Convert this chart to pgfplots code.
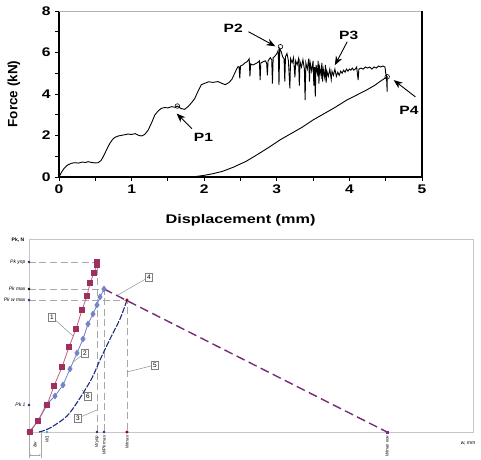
\documentclass[border=0pt]{standalone}
\usepackage{fontspec}
\setmainfont{Liberation Sans}
\usepackage{pgfplots}
\pgfplotsset{compat=1.18}
\usetikzlibrary{arrows.meta}

\definecolor{sqred}{HTML}{9E2F5E}
\definecolor{sqline}{HTML}{C06080}
\definecolor{diablue}{HTML}{7282C4}
\definecolor{navyc}{HTML}{1F2A7A}
\definecolor{purp}{HTML}{7A2A78}
\definecolor{guide}{HTML}{A8A8A8}

\begin{document}
\begin{tikzpicture}
\useasboundingbox (0,0) rectangle (481pt,459pt);

% ---- top: force vs displacement ----
\begin{axis}[
  at={(59pt,282pt)}, anchor=south west,
  scale only axis, width=363pt, height=166pt,
  xmin=0, xmax=5, ymin=0, ymax=8,
  xtick={0,...,5}, ytick={0,2,...,8},
  minor x tick num=1, minor y tick num=1,
  tick align=outside, xtick pos=bottom, ytick pos=left,
  major tick length=4pt, minor tick length=4pt,
  axis lines*=left, axis line style={line width=1.2pt,-},
  tick style={line width=0.9pt, black},
  /pgf/number format/assume math mode=true,
  ticklabel style={font=\bfseries\fontsize{12.5}{14}\selectfont, xscale=1.25},
  xlabel={Displacement (mm)}, ylabel={Force (kN)},
  xlabel style={at={(axis description cs:0.5,-0.26)}, anchor=center,
    font=\bfseries\fontsize{12.5}{14}\selectfont, xscale=1.3},
  ylabel style={at={(axis description cs:-0.124,0.5)}, anchor=center,
    font=\bfseries\fontsize{13.5}{15}\selectfont},
  clip=false
]
\addplot[black, line width=0.9pt] coordinates {
(0,0) (0.03,0.2) (0.07,0.42) (0.12,0.58) (0.17,0.66) (0.22,0.69) (0.27,0.67)
(0.32,0.72) (0.37,0.7) (0.40,0.74) (0.45,0.7) (0.50,0.68) (0.54,0.69) (0.58,0.8)
(0.62,1.05) (0.66,1.35) (0.70,1.62) (0.74,1.82) (0.77,1.91) (0.82,1.98) (0.88,2.02)
(0.95,2.07) (1.0,2.05) (1.05,2.09) (1.10,2.0) (1.14,1.98) (1.18,2.05) (1.23,2.27)
(1.28,2.65) (1.32,2.99) (1.37,3.2) (1.41,3.31) (1.46,3.35) (1.50,3.33) (1.55,3.39)
(1.60,3.36) (1.63,3.42) (1.68,3.3) (1.73,3.26) (1.78,3.4) (1.83,3.6) (1.87,3.78)
(1.91,4.1) (1.96,4.45) (2.01,4.52) (2.06,4.59) (2.12,4.56) (2.19,4.6) (2.24,4.52)
(2.29,4.45) (2.34,4.55) (2.38,4.7) (2.42,5.0) (2.46,5.3) (2.48,5.32) (2.49,4.75)
(2.50,5.35) (2.53,5.4) (2.56,5.5) (2.59,5.55) (2.62,5.7) (2.63,4.85) (2.64,5.45)
(2.67,5.4) (2.70,5.45) (2.73,5.5) (2.76,5.6) (2.77,4.67) (2.78,5.5) (2.81,5.55)
(2.84,5.6) (2.86,5.5) (2.87,4.9) (2.88,5.6) (2.91,5.75) (2.93,5.65) (2.94,4.5)
(2.95,5.75) (2.98,5.85) (3.00,5.95) (3.02,6.1) (3.03,4.43) (3.04,6.2) (3.06,6.05)
(3.08,5.8) (3.10,5.7) (3.11,4.6) (3.12,5.8) (3.14,5.95) (3.16,5.6) (3.18,4.27)
(3.19,5.7) (3.21,5.5) (3.23,5.75) (3.25,4.8) (3.26,5.6) (3.28,5.4) (3.30,5.7)
(3.31,4.4) (3.32,5.55) (3.34,5.3) (3.36,5.65) (3.38,5.2) (3.39,3.71) (3.40,5.5)
(3.42,5.2) (3.44,5.7) (3.45,4.6) (3.46,5.5) (3.48,5.1) (3.50,5.6) (3.51,4.4)
(3.52,5.3) (3.53,3.87) (3.54,5.4) (3.56,5.0) (3.57,5.6) (3.58,4.5) (3.59,5.3)
(3.61,4.9) (3.62,5.5) (3.63,4.6) (3.64,5.2) (3.66,4.8) (3.67,5.4) (3.68,4.55)
(3.69,5.1) (3.71,4.85) (3.73,5.2) (3.75,4.7) (3.76,5.1) (3.78,4.9) (3.80,5.2)
(3.82,4.85) (3.84,5.05) (3.86,4.9) (3.88,5.1) (3.90,5.0) (3.92,5.15) (3.94,5.05)
(3.96,5.2) (3.98,5.1) (4.00,5.2) (4.02,5.15) (4.04,5.25) (4.06,5.15) (4.08,5.2)
(4.10,5.3) (4.12,4.67) (4.13,5.2) (4.16,5.25) (4.19,5.2) (4.22,5.3) (4.25,5.25)
(4.28,5.3) (4.31,5.2) (4.34,5.3) (4.37,5.25) (4.40,5.35) (4.43,5.3) (4.46,5.35)
(4.49,5.3) (4.50,5.0) (4.51,4.9) (4.52,4.11) (4.52,4.83)
(4.42,4.6) (4.35,4.42) (4.24,4.2) (4.10,3.95) (3.96,3.7) (3.80,3.35) (3.65,3.05)
(3.50,2.75) (3.35,2.4) (3.20,2.1) (3.04,1.78) (2.90,1.45) (2.75,1.12) (2.58,0.76)
(2.40,0.47) (2.25,0.27) (2.12,0.16) (2.00,0.08) (1.90,0.03) (1.80,0)
};
\addplot[only marks, mark=o, mark size=2.3pt, black, mark options={line width=0.6pt}]
  coordinates {(1.63,3.42) (3.05,6.28) (4.52,4.83)};
\draw[gray!60, line width=0.6pt] (rel axis cs:0,1) -- (rel axis cs:1,1);
\draw[black, line width=1.2pt] (rel axis cs:1,0) -- (rel axis cs:1,1);
\begin{scope}[every node/.style={font=\bfseries\fontsize{12}{14}\selectfont, xscale=1.3}]
\draw[-{Stealth[length=9pt,width=7pt]}, line width=0.9pt] (axis cs:1.83,2.33) -- (axis cs:1.62,3.06);
\node at (axis cs:1.99,1.93) {P1};
\draw[-{Stealth[length=9pt,width=7pt]}, line width=0.9pt] (axis cs:2.61,7.0) -- (axis cs:2.98,6.3);
\node at (axis cs:2.40,7.17) {P2};
\draw[-{Stealth[length=9pt,width=7pt]}, line width=0.9pt] (axis cs:3.97,6.52) -- (axis cs:3.80,5.39);
\node at (axis cs:3.99,6.82) {P3};
\draw[-{Stealth[length=9pt,width=7pt]}, line width=0.9pt] (axis cs:4.91,3.86) -- (axis cs:4.61,4.67);
\node at (axis cs:4.82,3.22) {P4};
\end{scope}
\end{axis}

% ---- bottom: schematic diagram ----
\begin{axis}[
  at={(29pt,27pt)}, anchor=south west,
  scale only axis, width=444pt, height=193pt,
  xmin=0, xmax=444, ymin=0, ymax=193,
  axis line style={draw=gray!45, line width=0.8pt},
  xtick={18,68,75,98,358},
  xticklabels={W1, Wупр, WPk max, Wmax, Wmax кон},
  ytick={27,132,143,170},
  yticklabels={Pk 1, Pk w max, Pk max, Pk упр},
  major tick length=0pt, tick style={draw=none},
  xticklabel style={rotate=90, anchor=east, font=\itshape\fontsize{4.5}{5}\selectfont},
  yticklabel style={font=\itshape\fontsize{5}{5}\selectfont},
  clip=false
]
% guide lines
\addplot[guide, dash pattern=on 7pt off 3.5pt, line width=0.9pt] coordinates {(0,170) (68,170) (68,0)};
\addplot[guide, dash pattern=on 7pt off 3.5pt, line width=0.9pt] coordinates {(0,143) (75,143) (75,0)};
\addplot[guide, dash pattern=on 7pt off 3.5pt, line width=0.9pt] coordinates {(0,132) (98,132) (98,0)};
% curve 6 / 3
\addplot[navyc, dash pattern=on 6pt off 1.5pt, line width=1.1pt, smooth] coordinates {
(10,0) (21,4) (38,16) (51,34) (63,54) (71,72) (81,93) (91,113) (98,132)};
% line 4
\addplot[purp, dash pattern=on 9pt off 4.5pt, line width=1.4pt] coordinates {(75,143) (358,0)};
% curve 2
\addplot[diablue, line width=0.8pt, mark=diamond*, mark size=2.8pt, mark options={fill=diablue, draw=diablue}] coordinates {
(0,0) (9,11) (17,27) (26,36) (34,47) (41,63) (48,79) (54,93) (59,108) (64,118) (68,127) (71,135) (75,143)};
% curve 1
\addplot[sqline, line width=0.8pt, mark=square*, mark size=2.5pt, mark options={fill=sqred, draw=sqred}] coordinates {
(1,0) (9,11) (18,27) (25,46) (33,65) (40,85) (47,103) (53,122) (58,136) (61,149) (65,159) (68,167) (68,170)};
% axis dots
\addplot[only marks, mark=*, mark size=1.2pt, navyc] coordinates {(0,170) (0,132) (0,27) (68,0) (75,0)};
\addplot[only marks, mark=*, mark size=1.2pt, black] coordinates {(0,143)};
\addplot[only marks, mark=*, mark size=1.3pt, red!60!black] coordinates {(98,0) (98,132)};
\addplot[only marks, mark=square*, mark size=1.3pt, purp] coordinates {(358,0)};
\addplot[only marks, mark=*, mark size=1pt, cyan!70!gray] coordinates {(18,0)};
% numbered callouts
\begin{scope}[every node/.style={draw=gray, fill=white, inner sep=1.6pt, font=\fontsize{6.5}{7}\selectfont}]
\draw[gray] (axis cs:23,115) -- (axis cs:44,96);
\node at (axis cs:23,115) {1};
\draw[gray] (axis cs:56,79) -- (axis cs:44,70);
\node at (axis cs:56,79) {2};
\draw[gray] (axis cs:49,14) -- (axis cs:68,22);
\node at (axis cs:49,14) {3};
\draw[gray] (axis cs:120,155) -- (axis cs:89,137);
\node at (axis cs:120,155) {4};
\draw[gray] (axis cs:126,67) -- (axis cs:98,60);
\node at (axis cs:126,67) {5};
\draw[gray] (axis cs:59,36) -- (axis cs:53,42);
\node at (axis cs:59,36) {6};
\end{scope}
% dimension at origin
\draw[gray!70, line width=0.6pt] (axis cs:0,0) -- (axis cs:0,-26) (axis cs:12,0) -- (axis cs:12,-26);
\draw[gray!70, {Stealth[length=2pt]}-{Stealth[length=2pt]}, line width=0.5pt] (axis cs:0,-23) -- (axis cs:12,-23);
\node[rotate=90, font=\itshape\fontsize{4.5}{5}\selectfont] at (axis cs:6,-13) {δw};
\node[font=\bfseries\fontsize{5}{5}\selectfont] at (axis cs:-11,192) {Pk, N};
\node[font=\itshape\fontsize{5}{5}\selectfont] at (axis cs:439,-11) {w, mm};
\end{axis}
\end{tikzpicture}
\end{document}
